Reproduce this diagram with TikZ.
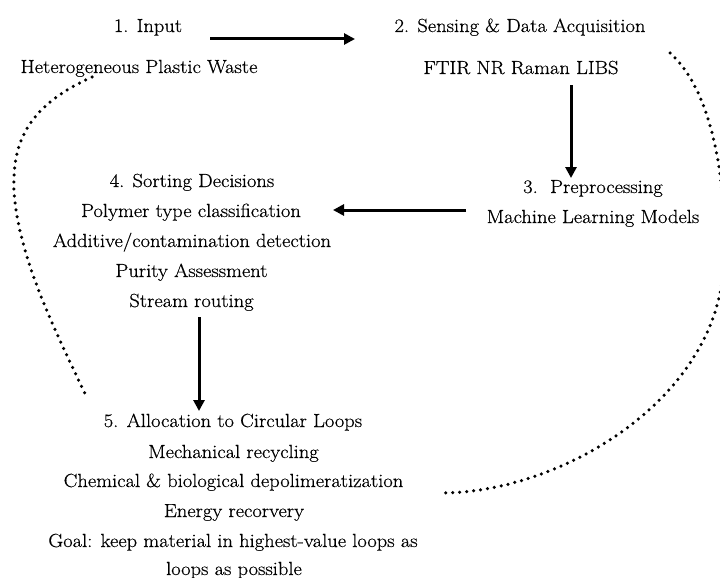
\documentclass[tikz,border=0pt]{standalone}
\usepackage{fontspec}
\setmainfont{Latin Modern Roman}[FakeStretch=1.08, FakeBold=0.5]
\usetikzlibrary{arrows.meta}
\begin{document}
\begin{tikzpicture}[x=1pt,y=-1pt,
  txt/.style={anchor=base, inner sep=0pt, font=\fontsize{19}{22}\selectfont, text=black},
  flow/.style={line width=3pt, -{Triangle[length=11pt,width=11pt]}},
  loopline/.style={line width=3.5pt, line cap=round, dash pattern=on 0pt off 7pt}]
\useasboundingbox (0,0) rectangle (720,578);
% block 1
\node[txt] (t1) at (148,32) {1. Input};
\node[txt] (s1) at (139,73) {Heterogeneous Plastic Waste};
% block 2
\node[txt] (t2) at (520,32) {2. Sensing \& Data Acquisition};
\node[txt] (s2) at (521,74) {FTIR NR Raman LIBS};
% block 3
\node[txt] (t3) at (593,193) {3.\ \ Preprocessing};
\node[txt] (s3) at (593,223) {Machine Learning Models};
% block 4
\node[txt] (t4) at (192,187) {4. Sorting Decisions};
\node[txt] (l4a) at (191,217) {Polymer type classification};
\node[txt] (l4b) at (192,247) {Additive/contamination detection};
\node[txt] (l4c) at (191.5,277) {Purity Assessment};
\node[txt] (l4d) at (191.5,307) {Stream routing};
% block 5
\node[txt] (t5) at (233,427) {5. Allocation to Circular Loops};
\node[txt] (l5a) at (233.5,458) {Mechanical recycling};
\node[txt] (l5b) at (233.5,487) {Chemical \& biological depolimeratization};
\node[txt] (l5c) at (234,517) {Energy recorvery};
\node[txt] (l5d) at (233,547) {Goal: keep material in highest-value loops as};
\node[txt] (l5e) at (234,575) {loops as possible};
% arrow end points
\coordinate (a1s) at (210,39);  \coordinate (a1e) at (355,39);
\coordinate (a2s) at (571,85);  \coordinate (a2e) at (571,178);
\coordinate (a3s) at (466,210); \coordinate (a3e) at (333,210);
\coordinate (a4s) at (199,317); \coordinate (a4e) at (199,411);
\draw[flow] (a1s) -- (a1e);
\draw[flow] (a2s) -- (a2e);
\draw[flow] (a3s) -- (a3e);
\draw[flow] (a4s) -- (a4e);
% dotted loops
\coordinate (ls) at (92,77);  \coordinate (lm) at (14,190); \coordinate (le) at (87,398);
\draw[loopline] (ls) .. controls (30,105) and (12,140) .. (lm)
                     .. controls (18,260) and (60,340) .. (le);
\coordinate (rs) at (670,53); \coordinate (rm) at (724,260); \coordinate (re) at (441,493);
\draw[loopline] (rs) .. controls (712,90) and (727,180) .. (rm)
                     .. controls (720,400) and (560,493) .. (re);
\end{tikzpicture}
\end{document}
